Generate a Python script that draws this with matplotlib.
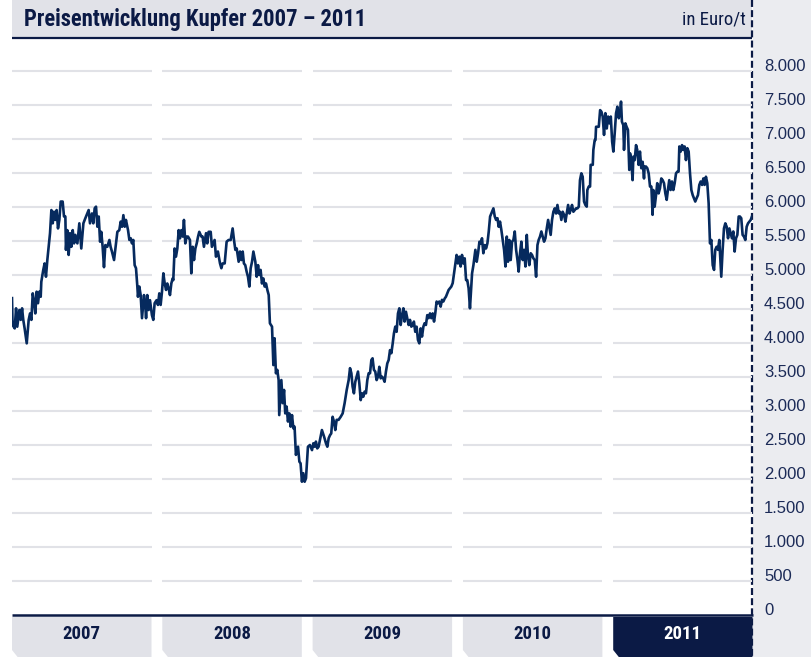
import matplotlib
matplotlib.use('Agg')
import matplotlib.pyplot as plt
import matplotlib.transforms as mtransforms
from matplotlib.patches import Rectangle, Polygon

# Kupferpreis in Euro/t, Position = Anteil des Jahres
years = [2007, 2008, 2009, 2010, 2011]

pos_2007 = [0.000, 0.004, 0.018, 0.027, 0.035, 0.049, 0.058, 0.067, 0.075, 0.084,
            0.098, 0.111, 0.120, 0.129, 0.138, 0.146, 0.155, 0.164, 0.173, 0.182,
            0.191, 0.195, 0.208, 0.217, 0.226, 0.235, 0.253, 0.262, 0.271, 0.279,
            0.288, 0.297, 0.306, 0.315, 0.324, 0.337, 0.346, 0.355, 0.359, 0.368,
            0.377, 0.386, 0.395, 0.404, 0.413, 0.421, 0.435, 0.448, 0.461, 0.475,
            0.488, 0.501, 0.510, 0.519, 0.532, 0.541, 0.550, 0.559, 0.568, 0.577,
            0.586, 0.594, 0.603, 0.612, 0.621, 0.634, 0.648, 0.656, 0.665, 0.679,
            0.692, 0.701, 0.714, 0.723, 0.732, 0.741, 0.750, 0.758, 0.772, 0.781,
            0.790, 0.798, 0.807, 0.816, 0.825, 0.834, 0.838, 0.847, 0.856, 0.865,
            0.878, 0.887, 0.892, 0.900, 0.909, 0.918, 0.931, 0.940, 0.949, 0.962,
            0.971, 0.980, 0.989, 0.998]
price_2007 = [4660, 4265, 4215, 4510, 4240, 4485, 4340, 4510, 4340, 4215,
              3995, 4340, 4435, 4340, 4730, 4630, 4435, 4755, 4585, 4755,
              4680, 4900, 5075, 5170, 4975, 5220, 5615, 5955, 5760, 5930,
              5810, 5955, 5685, 5810, 6080, 6080, 5860, 5860, 5370, 5660,
              5295, 5615, 5415, 5660, 5465, 5590, 5465, 5760, 5390, 5760,
              5835, 5905, 5955, 5760, 5905, 5760, 5980, 6005, 5710, 5860,
              5490, 5635, 5415, 5115, 5440, 5415, 5515, 5415, 5345, 5220,
              5465, 5635, 5660, 5785, 5710, 5880, 5710, 5810, 5660, 5515,
              5540, 5465, 5515, 5145, 5100, 4830, 4680, 4830, 4705, 4365,
              4705, 4535, 4365, 4705, 4485, 4630, 4410, 4340, 4585, 4630,
              4560, 4730, 4560, 4755]

pos_2008 = [0.007, 0.016, 0.025, 0.033, 0.042, 0.051, 0.060, 0.069, 0.073, 0.082,
            0.091, 0.100, 0.109, 0.118, 0.127, 0.136, 0.144, 0.153, 0.162, 0.171,
            0.184, 0.193, 0.202, 0.211, 0.220, 0.229, 0.238, 0.246,
            0.260, 0.268, 0.277, 0.291, 0.299, 0.308, 0.322, 0.330, 0.339, 0.348,
            0.357, 0.370, 0.384, 0.393, 0.401, 0.415, 0.428, 0.441, 0.455, 0.468,
            0.477, 0.486, 0.495, 0.508, 0.517, 0.526, 0.535, 0.543, 0.552, 0.561,
            0.570, 0.579, 0.588, 0.597, 0.606, 0.619, 0.628, 0.637, 0.645, 0.654,
            0.663, 0.672, 0.681, 0.690, 0.699, 0.708, 0.716, 0.730, 0.739, 0.747,
            0.756, 0.765, 0.774, 0.778, 0.792, 0.801, 0.810, 0.818, 0.827, 0.836,
            0.845, 0.854, 0.863, 0.872, 0.880, 0.889, 0.903, 0.912, 0.920, 0.929,
            0.938, 0.947, 0.956, 0.969, 0.982, 0.996]
price_2008 = [5025, 4875, 4780, 4875, 4805, 4705, 4875, 4950, 4925, 5390,
              5270, 5390, 5660, 5540, 5660, 5565, 5810, 5465, 5565, 5565,
              5515, 5025, 5415, 5220, 5390, 5465, 5565, 5635,
              5565, 5565, 5415, 5615, 5465, 5635, 5635, 5415, 5465, 5515,
              5270, 5345, 5170, 5100, 5170, 5170, 5490, 5515, 5515, 5685,
              5515, 5370, 5390, 5195, 5345, 5220, 5345, 5170, 5145, 5050,
              4975, 4830, 5100, 5195, 5345, 5195, 4975, 5145, 5000, 5075,
              4875, 4950, 4830, 4875, 4780, 4705, 4290, 4240, 3675, 4070,
              3555, 3605, 3455, 2940, 3455, 3115, 3310, 2965, 3065, 2845,
              2965, 2770, 2940, 2745, 2770, 2355, 2475, 2255, 2230, 1960,
              2085, 1960, 2010, 2475, 2500, 2425]

pos_2009 = [0.005, 0.014, 0.022, 0.031, 0.040, 0.049, 0.062, 0.076, 0.089, 0.098,
            0.107, 0.116, 0.124, 0.133, 0.142, 0.151, 0.160, 0.173, 0.187, 0.200,
            0.213, 0.227, 0.240, 0.249, 0.258, 0.266, 0.275, 0.284, 0.293, 0.302,
            0.311, 0.320, 0.329, 0.337, 0.346, 0.355, 0.364, 0.373, 0.382, 0.391,
            0.399, 0.408, 0.417, 0.426, 0.435, 0.444, 0.453, 0.462, 0.470, 0.479,
            0.488, 0.497, 0.506, 0.515, 0.524, 0.533, 0.541, 0.550, 0.559, 0.568,
            0.577, 0.586, 0.595, 0.604, 0.612, 0.621, 0.630, 0.639, 0.648, 0.657,
            0.666, 0.674, 0.683, 0.692, 0.701, 0.710, 0.719, 0.728, 0.737, 0.745,
            0.754, 0.763, 0.772, 0.781, 0.790, 0.799, 0.808, 0.816, 0.825, 0.834,
            0.843, 0.852, 0.861, 0.870, 0.879, 0.887, 0.896, 0.905, 0.914, 0.923,
            0.932, 0.941, 0.950, 0.958, 0.967, 0.976, 0.985, 0.994]
price_2009 = [2525, 2475, 2550, 2450, 2475, 2575, 2720, 2625, 2525, 2475,
              2600, 2645, 2670, 2915, 2845, 2720, 2870, 2870, 2915, 2965,
              3115, 3310, 3455, 3630, 3555, 3360, 3260, 3430, 3505, 3580,
              3405, 3160, 3260, 3210, 3285, 3260, 3455, 3555, 3555, 3750,
              3775, 3605, 3580, 3455, 3505, 3650, 3480, 3505, 3480, 3430,
              3580, 3700, 3750, 3895, 3850, 3995, 4140, 4240, 4165, 4435,
              4510, 4265, 4410, 4510, 4315, 4460, 4365, 4265, 4340, 4240,
              4265, 4315, 4165, 4240, 4045, 3995, 4215, 4095, 4240, 4290,
              4265, 4410, 4365, 4435, 4365, 4435, 4315, 4435, 4610, 4585,
              4610, 4535, 4635, 4610, 4655, 4680, 4730, 4780, 4805, 4830,
              4880, 5025, 5170, 5295, 5170, 5270, 5125, 5295]

pos_2010 = [0.003, 0.012, 0.021, 0.029, 0.038, 0.047, 0.061, 0.070, 0.083, 0.092,
            0.101, 0.110, 0.119, 0.127, 0.136, 0.145, 0.154, 0.163, 0.172, 0.181,
            0.194, 0.203, 0.212, 0.221, 0.230, 0.238, 0.247, 0.256, 0.265, 0.274,
            0.283, 0.292, 0.300, 0.309, 0.318, 0.327, 0.336, 0.345, 0.354, 0.363,
            0.371, 0.380, 0.389, 0.398, 0.407, 0.416, 0.425, 0.433, 0.442, 0.451,
            0.460, 0.469, 0.478, 0.487, 0.496, 0.504, 0.513, 0.522, 0.531, 0.540,
            0.549, 0.558, 0.567, 0.575, 0.584, 0.593, 0.602, 0.611, 0.620, 0.629,
            0.638, 0.646, 0.655, 0.664, 0.673, 0.682, 0.691, 0.700, 0.709, 0.717,
            0.726, 0.735, 0.744, 0.753, 0.762, 0.771, 0.779, 0.788, 0.797, 0.806,
            0.815, 0.824, 0.828, 0.837, 0.846, 0.850, 0.864, 0.868, 0.877, 0.882,
            0.886, 0.895, 0.904, 0.913, 0.922, 0.930, 0.939, 0.948, 0.957, 0.966,
            0.975, 0.984, 0.993]
price_2010 = [5170, 5245, 4925, 4925, 4805, 4510, 5025, 5145, 5370, 5195,
              5320, 5490, 5465, 5540, 5320, 5440, 5390, 5465, 5640, 5860,
              5930, 5980, 5860, 5810, 5835, 5710, 5785, 5660, 5515, 5370,
              5125, 5565, 5195, 5515, 5220, 5490, 5515, 5640, 5370, 5220,
              5050, 5320, 5490, 5220, 5370, 5125, 5590, 5270, 5145, 5320,
              5295, 5245, 5220, 4975, 5440, 5515, 5565, 5640, 5565, 5490,
              5540, 5685, 5810, 5710, 5590, 5810, 5930, 5980, 5905, 6030,
              5905, 5930, 5810, 5930, 5885, 5785, 5905, 6030, 5905, 5955,
              6030, 5930, 5955, 5980, 5980, 6005, 6395, 6495, 6445, 6080,
              6030, 6005, 6250, 6300, 6300, 6620, 6620, 6840, 6985, 6985,
              7180, 7180, 7180, 7425, 7400, 7330, 7060, 7380, 7155, 7330,
              7230, 7330, 6960]

pos_2011 = [0.001, 0.010, 0.019, 0.028, 0.037, 0.046, 0.052, 0.058, 0.067, 0.072,
            0.081, 0.089, 0.098, 0.107, 0.112, 0.120, 0.129, 0.134, 0.143, 0.152,
            0.160, 0.169, 0.178, 0.187, 0.196, 0.205, 0.209, 0.218, 0.227, 0.236,
            0.245, 0.254, 0.262, 0.267, 0.276, 0.285, 0.293, 0.302, 0.311, 0.320,
            0.329, 0.338, 0.347, 0.356, 0.364, 0.373, 0.382, 0.391, 0.400, 0.409,
            0.418, 0.427, 0.435, 0.440, 0.449, 0.458, 0.466, 0.475, 0.484, 0.493,
            0.502, 0.511, 0.520, 0.529, 0.546, 0.555, 0.564, 0.573, 0.582, 0.591,
            0.600, 0.608, 0.617, 0.626, 0.635, 0.644, 0.653, 0.662, 0.671, 0.679,
            0.688, 0.697, 0.706, 0.715, 0.719, 0.728, 0.737, 0.746, 0.755, 0.764,
            0.773, 0.781, 0.790, 0.799, 0.808, 0.817, 0.826, 0.835, 0.843, 0.852,
            0.861, 0.870, 0.879, 0.888, 0.897, 0.906, 0.915, 0.923]
price_2011 = [6815, 7085, 7380, 7475, 7305, 7400, 7550, 7255, 7205, 6840,
              7230, 7180, 7135, 6545, 6790, 6690, 6395, 6740, 6690, 6910,
              6840, 6620, 6815, 6570, 6665, 6420, 6595, 6595, 6570, 6495,
              6300, 6300, 5885, 6250, 6005, 6175, 6350, 6200, 6275, 6420,
              6395, 6350, 6200, 6105, 6250, 6395, 6250, 6375, 6250, 6350,
              6495, 6520, 6520, 6890, 6815, 6910, 6840, 6890, 6690, 6865,
              6815, 6495, 6250, 6175, 6080, 6130, 6175, 6325, 6375, 6325,
              6420, 6325, 6445, 6350, 6055, 5465, 5515, 5145, 5075, 5370,
              5415, 5370, 5515, 5125, 4975, 5370, 5685, 5760, 5710, 5540,
              5685, 5615, 5540, 5640, 5345, 5540, 5590, 5860, 5860, 5835,
              5590, 5565, 5515, 5710, 5760, 5785, 5810, 5860]

y_ticks = [0, 500, 1000, 1500, 2000, 2500, 3000, 3500, 4000,
           4500, 5000, 5500, 6000, 6500, 7000, 7500, 8000]
title = 'Preisentwicklung Kupfer 2007 – 2011'
unit = 'in Euro/t'

NAVY = '#0b1a45'
LINE = '#062a5e'
GRID = '#e1e2e7'
BAR = '#e1e2e8'
SIDE = '#ebecf0'
NARROW = ['Roboto Condensed', 'DejaVu Sans']

# Layout in Pixeln
W, H = 812, 657
left, right, top, bottom = 12, 752.5, 39, 615
px_year = 150.3
box_w = 139.5

fig = plt.figure(figsize=(W / 100, H / 100), dpi=100)

bg = fig.add_axes([0, 0, 1, 1])
bg.set_xlim(0, W)
bg.set_ylim(H, 0)
bg.axis('off')
bg.add_patch(Rectangle((right + 1, 0), W - right - 1, H, color=SIDE, lw=0))
bg.add_patch(Rectangle((left, 0), right - left, 37, color=BAR, lw=0))
bg.plot([left, right], [37.5, 37.5], color=NAVY, lw=1.6, solid_capstyle='butt')
plt.rcParams['lines.scale_dashes'] = False
bg.plot([right, right], [0, H], color=NAVY, lw=1.6, dashes=(5, 2.3))

fig.text(24 / W, 1 - 19.5 / H, title, family=NARROW, weight='bold', fontsize=16.3,
         color=NAVY, va='center', ha='left')
fig.text(746 / W, 1 - 19.5 / H, unit, family=NARROW, fontsize=13.5,
         color=NAVY, va='center', ha='right')

ax = fig.add_axes([left / W, (H - bottom) / H, (right - left) / W, (bottom - top) / H])
x_end = 2007 + (right - left) / px_year
ax.set_xlim(2007, x_end)
ax.set_ylim(0, 8000 * (bottom - top) / 544)
ax.axis('off')

seg = box_w / px_year
for v in y_ticks[1:]:
    for y in years:
        ax.plot([y, min(y + seg, x_end)], [v, v], color=GRID, lw=1.5,
                solid_capstyle='butt', zorder=1)
ax.plot([2007, x_end], [0, 0], color=NAVY, lw=1.8, clip_on=False,
        solid_capstyle='butt', zorder=3)

xs, ps = [], []
for y, pos, pr in zip(years, [pos_2007, pos_2008, pos_2009, pos_2010, pos_2011],
                      [price_2007, price_2008, price_2009, price_2010, price_2011]):
    xs += [y + p for p in pos]
    ps += pr
ax.plot(xs, ps, color=LINE, lw=1.9, zorder=4)

# Achsbeschriftung rechts
tr = mtransforms.blended_transform_factory(ax.transAxes, ax.transData)
lx = (764 - left) / (right - left)
for v in y_ticks:
    lab = f'{v:,}'.replace(',', '.')
    ax.text(lx, v, lab, transform=tr, fontsize=12, family='Liberation Sans',
            color='#1b2a57', va='baseline', ha='left', clip_on=False)

# Jahres-Reiter unten
tb = mtransforms.blended_transform_factory(ax.transData, ax.transAxes)
fy = lambda p: (bottom - p) / (bottom - top)
cut = 8 / px_year
for y in years:
    x1 = min(y + seg, x_end)
    dark = y == years[-1]
    poly = Polygon([(y, fy(617)), (x1, fy(617)), (x1, fy(660)), (y + cut, fy(660)),
                    (y, fy(650))], closed=True, transform=tb, clip_on=False,
                   facecolor=NAVY if dark else BAR, lw=0)
    ax.add_patch(poly)
    ax.text((y + x1) / 2, fy(634), str(y), transform=tb, family=NARROW,
            weight='bold', fontsize=13.5, color='white' if dark else NAVY,
            ha='center', va='center', clip_on=False)

fig.savefig('out.png', dpi=100)
